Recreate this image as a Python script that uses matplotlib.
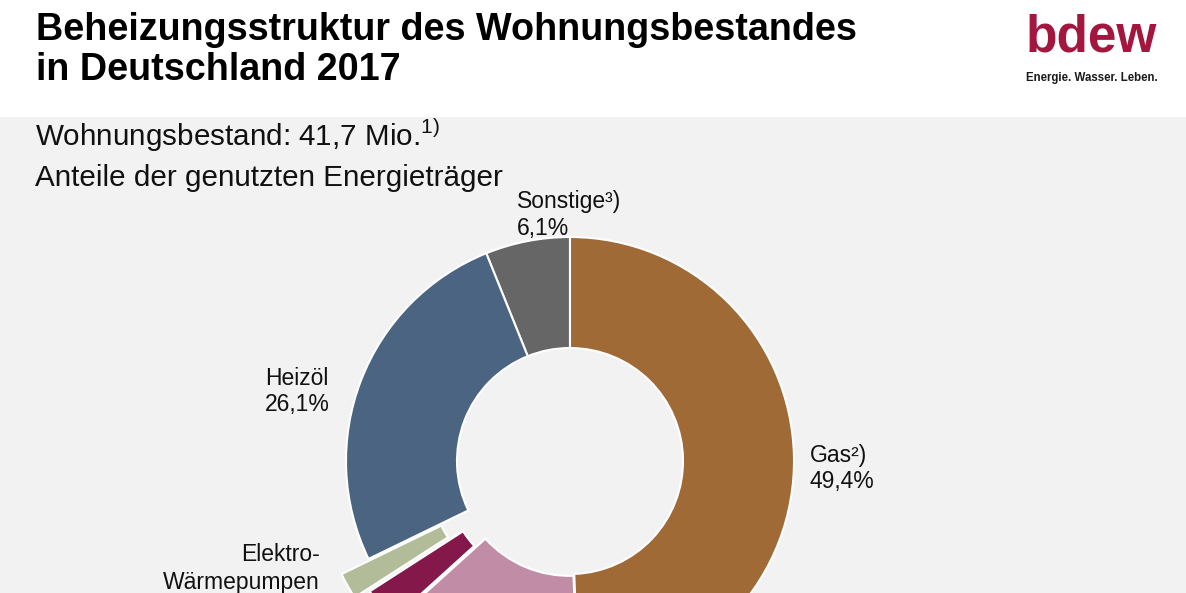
import matplotlib
matplotlib.use("Agg")
import matplotlib.pyplot as plt
from matplotlib.patches import Rectangle

plt.rcParams["font.family"] = ["Liberation Sans", "DejaVu Sans"]
plt.rcParams["mathtext.fontset"] = "custom"
plt.rcParams["mathtext.rm"] = "Liberation Sans"

W, H = 1186, 593

# Anteile, gegen den Uhrzeigersinn ab 12 Uhr
categories = ["Sonstige", "Heizöl", "Elektro-Wärmepumpen", "Strom", "Fernwärme", "Gas"]
shares = [6.1, 26.1, 1.9, 2.6, 13.9, 49.4]
colors = ["#666666", "#4a6482", "#b3bc98", "#85184b", "#c08ca6", "#a06a37"]
# Versatz der herausgezogenen Segmente in Pixeln
explode = [0, 0, 31, 15, 2, 0]


def fmt(v):
    return f"{v:.1f}".replace(".", ",") + "%"


def y(px):
    # Pixel von oben -> Datenkoordinate
    return H - px


fig = plt.figure(figsize=(W / 100, H / 100), dpi=100)
ax = fig.add_axes([0, 0, 1, 1])
ax.add_patch(Rectangle((0, 0), W, y(117), facecolor="#f2f2f2", edgecolor="none", zorder=0))

ax.pie(
    shares,
    colors=colors,
    explode=explode,
    startangle=90,
    counterclock=True,
    radius=224,
    center=(570, y(461)),
    wedgeprops=dict(width=111, edgecolor="white", linewidth=1.5),
)
ax.set_xlim(0, W)
ax.set_ylim(0, H)
ax.set_aspect("equal")
ax.axis("off")

# Titel
ax.text(36, y(40), "Beheizungsstruktur des Wohnungsbestandes", fontsize=27.2,
        fontweight="bold", ha="left", va="baseline", color="black")
ax.text(36, y(80), "in Deutschland 2017", fontsize=27.2,
        fontweight="bold", ha="left", va="baseline", color="black")

# Logo
ax.text(1091, y(52), "bdew", fontsize=37, fontweight="bold", color="#a3173f",
        ha="center", va="baseline")
ax.text(1092, y(81), "Energie. Wasser. Leben.", fontsize=8.3, fontweight="bold",
        color="#1a1a1a", ha="center", va="baseline")

# Untertitel
ax.text(35, y(146), r"Wohnungsbestand: 41,7 Mio.$^{\mathrm{1)}}$", fontsize=21.3,
        ha="left", va="baseline", color="#111111")
ax.text(35, y(186), "Anteile der genutzten Energieträger", fontsize=21.3,
        ha="left", va="baseline", color="#111111")

# Beschriftungen
lab = dict(fontsize=16.5, va="baseline", color="#111111")
ax.text(517, y(208), "Sonstige³)", ha="left", **lab)
ax.text(517, y(235), fmt(shares[0]), ha="left", **lab)
ax.text(265, y(385), categories[1], ha="left", **lab)
ax.text(265, y(411), fmt(shares[1]), ha="left", **lab)
ax.text(810, y(462), "Gas²)", ha="left", **lab)
ax.text(810, y(488), fmt(shares[5]), ha="left", **lab)
ax.text(320, y(561), "Elektro-", ha="right", **lab)
ax.text(320, y(589), "Wärmepumpen", ha="right", **lab)

fig.savefig("out.png", dpi=100)
